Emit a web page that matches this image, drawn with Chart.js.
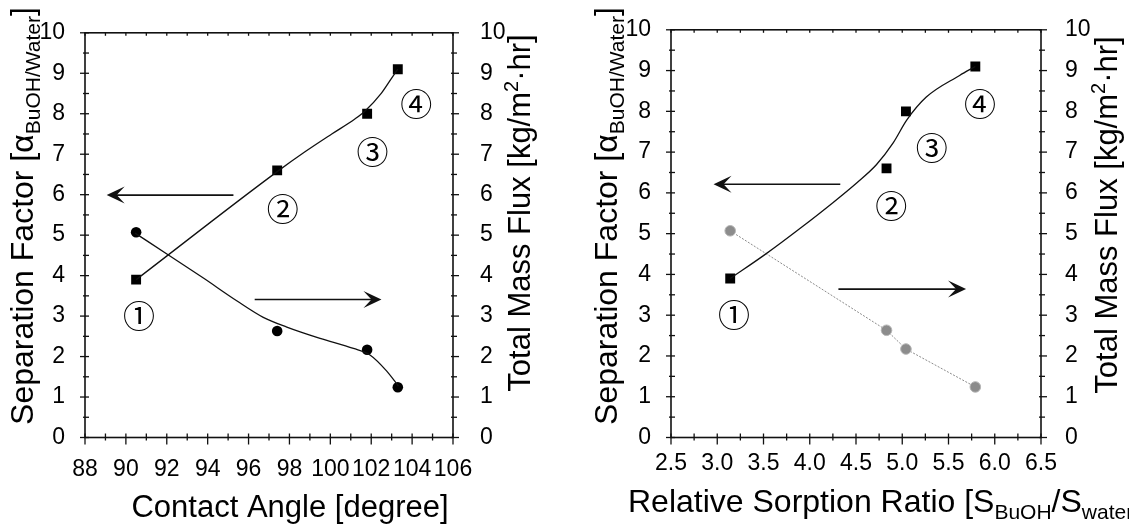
<!DOCTYPE html>
<html><head><meta charset="utf-8">
<script src="https://cdn.jsdelivr.net/npm/chart.js@4.4.0/dist/chart.umd.min.js"></script>
<style>
html,body{margin:0;padding:0;background:#fff;overflow:hidden}
#wrap{position:relative;width:1129px;height:529px;background:#fff}
canvas{position:absolute;top:0}
#c1{left:0}
#c2{left:560px}
</style></head><body>
<div id="wrap"><canvas id="c1" width="560" height="529"></canvas><canvas id="c2" width="569" height="529"></canvas></div>
<script>
// ---------- data ----------
const sampleLabels = ['①', '②', '③', '④'];
const contactAngle = [90.5, 97.4, 101.8, 103.3];          // degree
const sorptionRatio = [3.14, 4.83, 5.04, 5.79];           // S_BuOH / S_water
const separationFactor = [3.9, 6.6, 8.0, 9.1];            // alpha BuOH/Water
const totalMassFlux = [5.07, 2.63, 2.17, 1.24];           // kg/m2.hr

// hand-drawn trend curves as they appear in the figure
const sepTrendAngle = [90.5, 97.4, 98.76, 100.07, 101.2, 101.7, 102.5, 103.0, 103.3];
const sepTrendAngleValue = [3.9, 6.57, 7.06, 7.5, 7.87, 8.07, 8.51, 8.88, 9.1];
const fluxTrendAngle = [90.45, 92.08, 93.79, 95.42, 96.72, 97.87, 99.5, 101.13, 101.94, 102.76, 103.33];
const fluxTrendValue = [5.05, 4.51, 3.94, 3.38, 2.97, 2.73, 2.45, 2.2, 2.04, 1.64, 1.27];
const sepTrendRatio = [3.14, 3.53, 3.89, 4.25, 4.51, 4.72, 4.90, 5.05, 5.26, 5.62, 5.79];
const sepTrendValue = [3.9, 4.51, 5.12, 5.76, 6.25, 6.69, 7.22, 7.79, 8.35, 8.88, 9.1];

// tick labels
const angleTickLabels = ['88', '90', '92', '94', '96', '98', '100', '102', '104', '106'];
const ratioTickLabels = ['2.5', '3.0', '3.5', '4.0', '4.5', '5.0', '5.5', '6.0', '6.5'];
const valueTickLabels = ['0', '1', '2', '3', '4', '5', '6', '7', '8', '9', '10'];

// annotation anchors (data units)
const leftPanelLabelX = [90.64, 97.67, 102.06, 104.2];
const leftPanelLabelY = [3.0, 5.66, 7.06, 8.24];
const rightPanelLabelX = [3.18, 4.88, 5.32, 5.84];
const rightPanelLabelY = [3.02, 5.68, 7.1, 8.18];
const leftArrowFromX = [95.26, 96.3];
const leftArrowToX = [89.06, 102.5];
const leftArrowY = [5.99, 3.41];
const rightArrowFromX = [4.33, 4.31];
const rightArrowToX = [2.96, 5.69];
const rightArrowY = [6.21, 3.64];

// ---------- helpers ----------
Chart.defaults.font.family = '"Liberation Sans", Arial, sans-serif';
Chart.defaults.color = '#000';
const FONT = '"Liberation Sans", Arial, sans-serif';

const pts = (xs, ys) => xs.map((x, i) => ({x: x, y: ys[i]}));

function line(ctx, x1, y1, x2, y2) {
  ctx.beginPath(); ctx.moveTo(x1, y1); ctx.lineTo(x2, y2); ctx.stroke();
}

function drawArrow(ctx, x1, y1, x2, y2) {
  const dir = Math.sign(x2 - x1);
  ctx.save();
  ctx.strokeStyle = '#111'; ctx.fillStyle = '#111'; ctx.lineWidth = 1.6;
  line(ctx, x1, y1, x2 - dir * 8, y2);
  ctx.beginPath();
  ctx.moveTo(x2, y2);
  ctx.lineTo(x2 - dir * 18, y2 - 8.5);
  ctx.lineTo(x2 - dir * 10, y2);
  ctx.lineTo(x2 - dir * 18, y2 + 8.5);
  ctx.closePath(); ctx.fill();
  ctx.restore();
}

// rich text: segments {t, size, dy}; rotate = true draws bottom-to-top
function drawRich(ctx, segs, x, y, rotate, align) {
  ctx.save();
  ctx.translate(x, y);
  if (rotate) ctx.rotate(-Math.PI / 2);
  ctx.fillStyle = '#000';
  ctx.textBaseline = 'alphabetic';
  ctx.textAlign = 'left';
  let total = 0;
  segs.forEach(s => { ctx.font = s.size + 'px ' + FONT; s.w = ctx.measureText(s.t).width; total += s.w; });
  let cx = align === 'center' ? -total / 2 : 0;
  segs.forEach(s => { ctx.font = s.size + 'px ' + FONT; ctx.fillText(s.t, cx, s.dy || 0); cx += s.w; });
  ctx.restore();
}

function framePlugin(xMajor, xMinor) {
  return {
    id: 'frame',
    afterDraw(chart) {
      const {ctx, chartArea: a, scales} = chart;
      ctx.save();
      ctx.strokeStyle = '#111';
      ctx.lineWidth = 1.6;
      ctx.strokeRect(a.left, a.top, a.right - a.left, a.bottom - a.top);
      ctx.lineWidth = 1.3;
      const xs = scales.x;
      const n = Math.round((xs.max - xs.min) / xMinor);
      for (let i = 0; i <= n; i++) {
        const v = xs.min + i * xMinor;
        const px = xs.getPixelForValue(v);
        const major = Math.abs(v / xMajor - Math.round(v / xMajor)) < 1e-6;
        line(ctx, px, a.bottom - 4, px, a.bottom + (major ? 7 : 3));
        line(ctx, px, a.top, px, a.top + 3);
      }
      const ys = scales.y;
      for (let i = 0; i <= 20; i++) {
        const v = i * 0.5;
        const py = ys.getPixelForValue(v);
        const major = i % 2 === 0;
        line(ctx, a.left - (major ? 5 : 2), py, a.left + 4, py);
        line(ctx, a.right - 2, py, a.right + (major ? 6 : 4), py);
      }
      ctx.restore();
    }
  };
}

function annotPlugin(lx, ly, ax1, ax2, ay, titles) {
  return {
    id: 'annot',
    afterDatasetsDraw(chart) {
      const {ctx, scales} = chart;
      const xs = scales.x, ys = scales.y;
      for (let i = 0; i < ax1.length; i++) {
        drawArrow(ctx, xs.getPixelForValue(ax1[i]), ys.getPixelForValue(ay[i]),
                  xs.getPixelForValue(ax2[i]), ys.getPixelForValue(ay[i]));
      }
      ctx.save();
      ctx.fillStyle = '#000';
      ctx.font = '32px "Noto Sans CJK JP"';
      ctx.textAlign = 'center';
      ctx.textBaseline = 'middle';
      for (let i = 0; i < sampleLabels.length; i++) {
        ctx.fillText(sampleLabels[i], xs.getPixelForValue(lx[i]), ys.getPixelForValue(ly[i]));
      }
      ctx.restore();
    },
    afterDraw(chart) { titles(chart.ctx); }
  };
}

function baseOptions(xMin, xMax, xStep, xLabels, xPad, yW, y2W, yPad, y2Pad) {
  return {
    responsive: false,
    animation: false,
    devicePixelRatio: 1,
    layout: {padding: {top: 25, left: 0, right: 0, bottom: 0}},
    plugins: {legend: {display: false}, tooltip: {enabled: false}},
    scales: {
      x: {
        type: 'linear', position: 'bottom', min: xMin, max: xMax,
        grid: {display: false}, border: {display: false},
        ticks: {stepSize: xStep, autoSkip: false, maxRotation: 0, padding: xPad,
                font: {size: 23}, color: '#000',
                callback: (v, i) => xLabels[i]},
        afterFit: s => { s.height = 91.5; }
      },
      y: {
        type: 'linear', position: 'left', min: 0, max: 10,
        grid: {display: false}, border: {display: false},
        ticks: {stepSize: 1, padding: yPad, font: {size: 23}, color: '#000',
                callback: (v, i) => valueTickLabels[i]},
        afterFit: s => { s.width = yW; }
      },
      y2: {
        type: 'linear', position: 'right', min: 0, max: 10,
        grid: {display: false}, border: {display: false},
        ticks: {stepSize: 1, padding: y2Pad, font: {size: 23}, color: '#000',
                callback: (v, i) => valueTickLabels[i]},
        afterFit: s => { s.width = y2W; }
      }
    }
  };
}

// ---------- left panel: contact angle ----------
new Chart(document.getElementById('c1'), {
  type: 'scatter',
  data: {
    datasets: [
      {label: 'Separation trend', data: pts(sepTrendAngle, sepTrendAngleValue), yAxisID: 'y',
       showLine: true, cubicInterpolationMode: 'monotone', borderColor: '#111', borderWidth: 1.3,
       pointRadius: 0},
      {label: 'Separation factor', data: pts(contactAngle, separationFactor), yAxisID: 'y',
       showLine: false, pointStyle: 'rect', pointRadius: 7, pointBackgroundColor: '#000', pointBorderWidth: 0},
      {label: 'Flux trend', data: pts(fluxTrendAngle, fluxTrendValue), yAxisID: 'y2',
       showLine: true, cubicInterpolationMode: 'monotone', borderColor: '#111', borderWidth: 1.3,
       pointRadius: 0},
      {label: 'Total mass flux', data: pts(contactAngle, totalMassFlux), yAxisID: 'y2',
       showLine: false, pointStyle: 'circle', pointRadius: 5.3, pointBackgroundColor: '#000',
       pointBorderWidth: 0}
    ]
  },
  options: baseOptions(88, 106, 2, angleTickLabels, 10, 85, 107, 12, 19),
  plugins: [framePlugin(2, 1), annotPlugin(leftPanelLabelX, leftPanelLabelY, leftArrowFromX, leftArrowToX, leftArrowY, ctx => {
    drawRich(ctx, [{t: 'Separation Factor [α', size: 32}, {t: 'BuOH/Water', size: 21, dy: 7}, {t: ']', size: 32}], 33, 216, true, 'center');
    drawRich(ctx, [{t: 'Total Mass Flux [kg/m', size: 31}, {t: '2', size: 20, dy: -12}, {t: '·hr]', size: 31}], 530, 213, true, 'center');
    drawRich(ctx, [{t: 'Contact Angle [degree]', size: 31}], 290, 517, false, 'center');
  })]
});

// ---------- right panel: relative sorption ratio ----------
new Chart(document.getElementById('c2'), {
  type: 'scatter',
  data: {
    datasets: [
      {label: 'Separation trend', data: pts(sepTrendRatio, sepTrendValue), yAxisID: 'y',
       showLine: true, cubicInterpolationMode: 'monotone', borderColor: '#111', borderWidth: 1.3,
       pointRadius: 0},
      {label: 'Separation factor', data: pts(sorptionRatio, separationFactor), yAxisID: 'y',
       showLine: false, pointStyle: 'rect', pointRadius: 7, pointBackgroundColor: '#000', pointBorderWidth: 0},
      {label: 'Total mass flux', data: pts(sorptionRatio, totalMassFlux), yAxisID: 'y2',
       showLine: true, tension: 0, borderColor: '#8a8a8a', borderWidth: 1, borderDash: [2, 1.5],
       pointStyle: 'circle', pointRadius: 5.3, pointBackgroundColor: '#8c8c8c',
       pointBorderColor: '#b5b5b5', pointBorderWidth: 1}
    ]
  },
  options: baseOptions(2.5, 6.5, 0.5, ratioTickLabels, 4, 111, 88, 12, 16),
  plugins: [framePlugin(0.5, 0.25), annotPlugin(rightPanelLabelX, rightPanelLabelY, rightArrowFromX, rightArrowToX, rightArrowY, ctx => {
    drawRich(ctx, [{t: 'Separation Factor [α', size: 32}, {t: 'BuOH/Water', size: 21, dy: 7}, {t: ']', size: 32}], 57, 216, true, 'center');
    drawRich(ctx, [{t: 'Total Mass Flux [kg/m', size: 31}, {t: '2', size: 20, dy: -12}, {t: '·hr]', size: 31}], 557, 215, true, 'center');
    drawRich(ctx, [{t: 'Relative Sorption Ratio [S', size: 32}, {t: 'BuOH', size: 21, dy: 7}, {t: '/S', size: 32}, {t: 'water', size: 21, dy: 7}, {t: ']', size: 32}], 68, 512, false, 'left');
  })]
});
</script>
</body></html>
